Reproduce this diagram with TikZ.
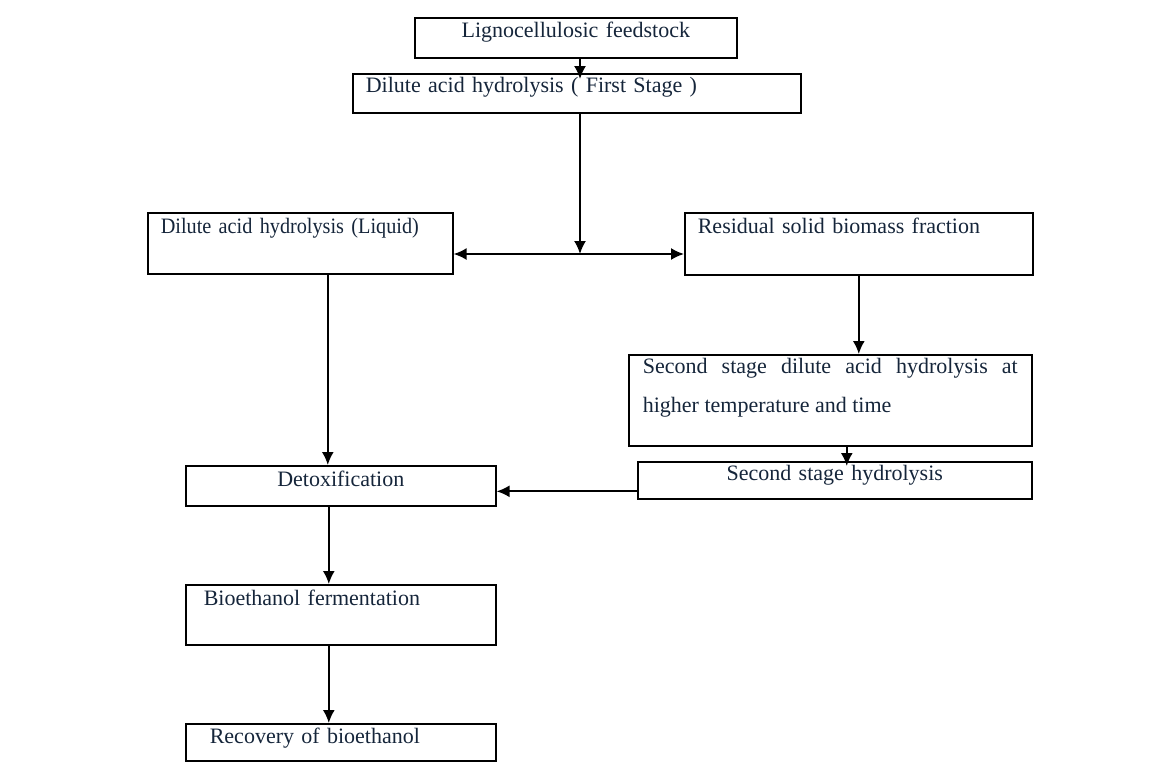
\documentclass[tikz,border=0pt]{standalone}
\usepackage{fontspec}
\setmainfont{Liberation Serif}
\newfontfamily\narrowserif[FakeStretch=0.92]{Liberation Serif}
\usetikzlibrary{arrows.meta}

\definecolor{inkblue}{HTML}{15253A}

\tikzset{
  stage/.style={draw=black, line width=1.6pt, rectangle, anchor=north west,
    inner ysep=0pt, inner xsep=13pt, align=left, text=inkblue,
    font=\fontsize{22}{26}\selectfont},
  flow/.style={-{Latex[length=13pt,width=12pt]}, line width=1.8pt},
}

\begin{document}
\begin{tikzpicture}[x=1pt, y=-1pt]

    \useasboundingbox (0,0) rectangle (1164,761);

    % Define nodes
    \node[stage, text width=296pt, text height=20pt, text depth=20pt, align=center]
        (feed) at (414,17) {Lignocellulosic feedstock};
    \node[stage, text width=422pt, text height=19pt, text depth=20pt]
        (first) at (352,73) {Dilute acid hydrolysis ( First Stage )};

    % split after first stage
    \node[stage, text width=279pt, text height=21pt, text depth=40pt,
        font=\narrowserif\fontsize{22}{26}\selectfont]
        (liquid) at (147,212) {Dilute acid hydrolysis (Liquid)};
    \node[stage, text width=322pt, text height=21pt, text depth=41pt]
        (residual) at (684,212) {Residual solid biomass fraction};
    \coordinate (split) at (580,254);

    % second stage
    \node[stage, inner xsep=14pt, text width=375pt, text height=19pt, text depth=72pt,
        align=justify, font=\fontsize{22}{39}\selectfont]
        (second) at (628,354) {Second stage dilute acid hydrolysis at higher temperature and time};
    \node[stage, text width=368pt, text height=19pt, text depth=18pt, align=center]
        (secondhyd) at (637,461) {Second stage hydrolysis};

    % main line
    \node[stage, text width=284pt, text height=21pt, text depth=19pt, align=center]
        (detox) at (185,465) {Detoxification};
    \node[stage, inner xsep=18pt, text width=274pt, text height=21pt, text depth=39pt]
        (ferment) at (185,584) {Bioethanol fermentation};
    \node[stage, inner xsep=24pt, text width=262pt, text height=20pt, text depth=17pt]
        (recovery) at (185,723) {Recovery of bioethanol};

    % Connect the nodes
    \draw[flow] (feed.south -| split) -- ([yshift=-6pt]first.north -| split);
    \draw[flow] (first.south -| split) -- (split);
    \draw[flow] (split) -- (liquid.east |- split);
    \draw[flow] (split) -- (residual.west |- split);
    \draw[flow] ([xshift=27.5pt]liquid.south) -- ([xshift=27.5pt]liquid.south |- detox.north);
    \draw[flow] (residual.south) -- (residual.south |- second.north);
    \draw[flow] ([xshift=16.5pt]second.south) -- ([xshift=16.5pt,yshift=-5pt]second.south |- secondhyd.north);
    \draw[flow] ([yshift=-11pt]secondhyd.west) -- ([yshift=-11pt]secondhyd.west -| detox.east);
    \draw[flow] ([xshift=-12pt]detox.south) -- ([xshift=-12pt]detox.south |- ferment.north);
    \draw[flow] ([xshift=-12pt]ferment.south) -- ([xshift=-12pt]ferment.south |- recovery.north);

\end{tikzpicture}
\end{document}
